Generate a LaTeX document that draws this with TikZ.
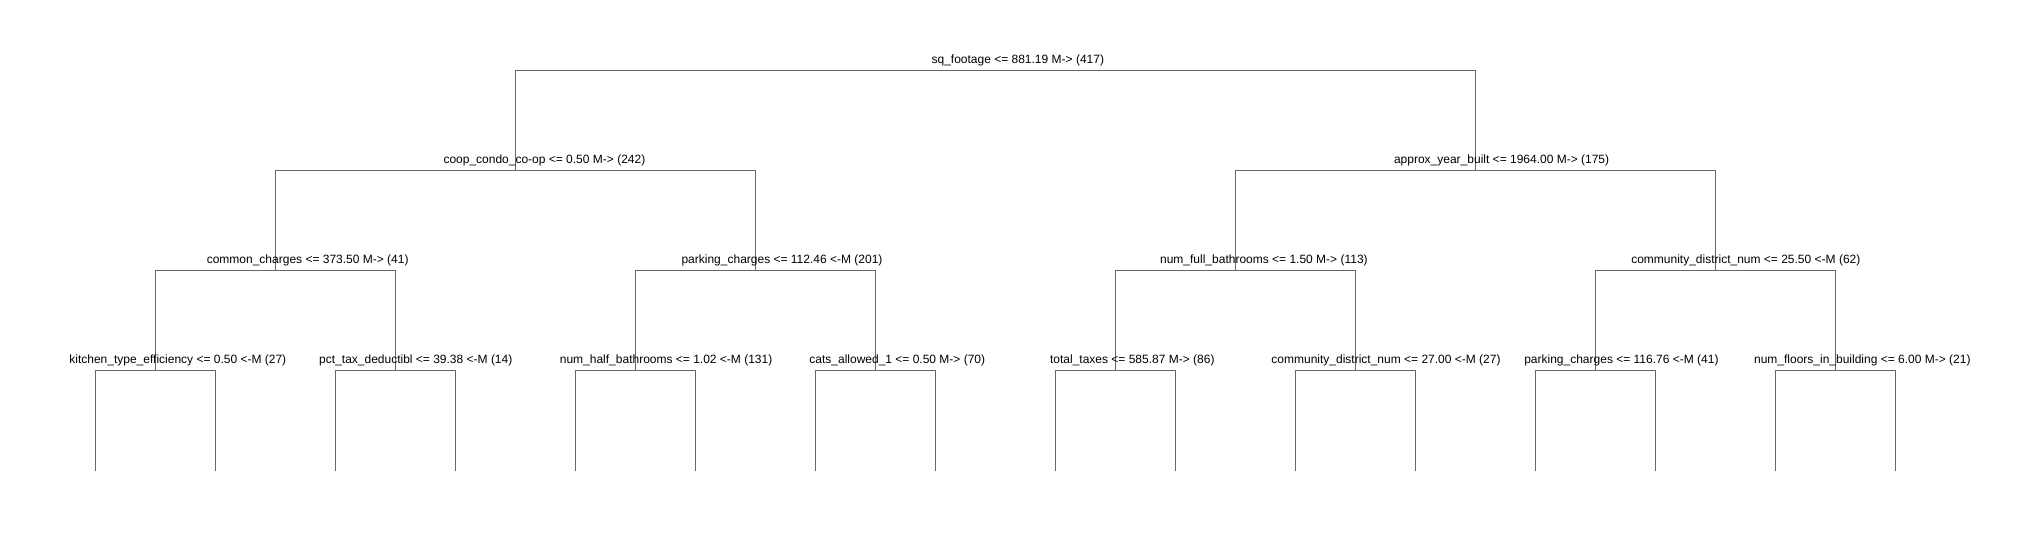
\documentclass[tikz,border=0pt]{standalone}
\usepackage{fontspec}
\setmainfont{Liberation Sans}
\usetikzlibrary{calc}

\tikzset{
    branch/.style={draw=black!60, line width=1pt},
    split/.style={font=\fontsize{12}{14}\selectfont, anchor=base, inner sep=0pt},
}

\begin{document}
\begin{tikzpicture}[x=1pt, y=-1pt]
    \useasboundingbox (0,0) rectangle (2042,540);

    % Points de coupure
    \foreach \k in {0,...,15} {
        \coordinate (f\k) at (95.6+120*\k, 470.7);
    }
    \foreach \k in {0,...,7} {
        \coordinate (c\k) at (155.6+240*\k, 370.2);
    }
    \foreach \k in {0,...,3} {
        \coordinate (b\k) at (275.6+480*\k, 270.3);
    }
    \foreach \k in {0,1} {
        \coordinate (a\k) at (515.6+960*\k, 170.1);
    }
    \coordinate (root) at (995.6, 70.2);

    % Branches
    \foreach \k in {0,...,7} {
        \pgfmathtruncatemacro{\l}{2*\k}
        \pgfmathtruncatemacro{\r}{2*\k+1}
        \draw[branch] (f\l) |- (c\k) -| (f\r);
    }
    \foreach \k in {0,...,3} {
        \pgfmathtruncatemacro{\l}{2*\k}
        \pgfmathtruncatemacro{\r}{2*\k+1}
        \draw[branch] (c\l) |- (b\k) -| (c\r);
    }
    \foreach \k in {0,1} {
        \pgfmathtruncatemacro{\l}{2*\k}
        \pgfmathtruncatemacro{\r}{2*\k+1}
        \draw[branch] (b\l) |- (a\k) -| (b\r);
    }
    \draw[branch] (a0) |- (root) -| (a1);

    % Etiquettes
    \node[split] (lab-root) at (1017.8, 63.7) {sq\_footage <= 881.19 M-> (417)};

    \foreach \x/\lab [count=\i] in {
        544.4/{coop\_condo\_co-op <= 0.50 M-> (242)},
        1501.6/{approx\_year\_built <= 1964.00 M-> (175)}} {
        \node[split] (lab-a\i) at (\x, 163.6) {\lab};
    }

    \foreach \x/\lab [count=\i] in {
        307.7/{common\_charges <= 373.50 M-> (41)},
        782.0/{parking\_charges <= 112.46 <-M (201)},
        1263.9/{num\_full\_bathrooms <= 1.50 M-> (113)},
        1745.8/{community\_district\_num <= 25.50 <-M (62)}} {
        \node[split] (lab-b\i) at (\x, 263.8) {\lab};
    }

    \foreach \x/\lab [count=\i] in {
        177.8/{kitchen\_type\_efficiency <= 0.50 <-M (27)},
        415.8/{pct\_tax\_deductibl <= 39.38 <-M (14)},
        666.1/{num\_half\_bathrooms <= 1.02 <-M (131)},
        897.3/{cats\_allowed\_1 <= 0.50 M-> (70)},
        1132.3/{total\_taxes <= 585.87 M-> (86)},
        1386.0/{community\_district\_num <= 27.00 <-M (27)},
        1621.4/{parking\_charges <= 116.76 <-M (41)},
        1862.3/{num\_floors\_in\_building <= 6.00 M-> (21)}} {
        \node[split] (lab-c\i) at (\x, 363.7) {\lab};
    }

\end{tikzpicture}
\end{document}
